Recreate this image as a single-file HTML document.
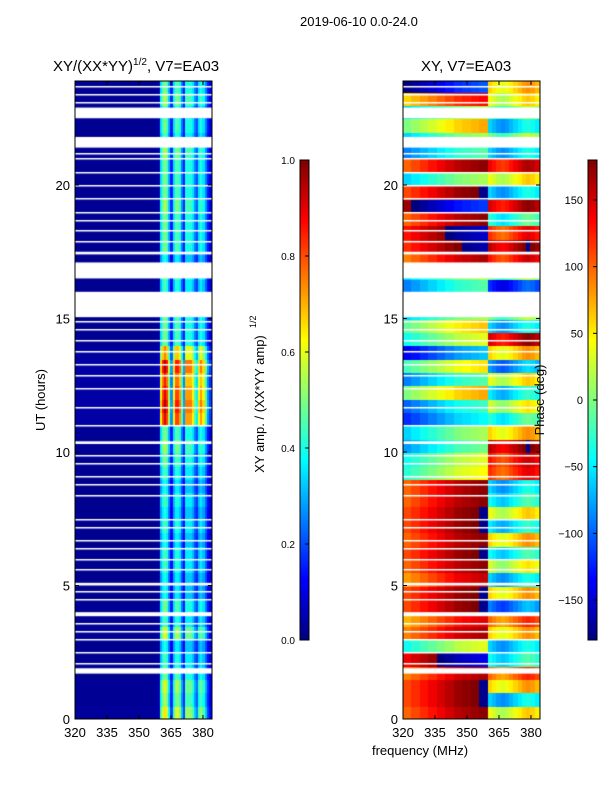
<!DOCTYPE html>
<html><head><meta charset="utf-8">
<style>
body{margin:0;background:#fff;width:600px;height:800px;overflow:hidden;font-family:"Liberation Sans","DejaVu Sans",sans-serif;}
.t{position:absolute;white-space:nowrap;color:#000;}
canvas{position:absolute;}
</style></head>
<body>
<div class="t" style="left:300px;top:14px;font-size:13px;">2019-06-10 0.0-24.0</div>
<div class="t" style="left:53px;top:57px;font-size:15px;">XY/(XX*YY)<sup style="font-size:10px">1/2</sup>, V7=EA03</div>
<div class="t" style="left:421px;top:58px;font-size:15px;">XY, V7=EA03</div>
<canvas id="c1" width="137" height="638" style="left:75px;top:81px"></canvas>
<canvas id="c2" width="137" height="638" style="left:403px;top:81px"></canvas>
<canvas id="cb1" width="9" height="480" style="left:300px;top:160px"></canvas>
<canvas id="cb2" width="9" height="480" style="left:588px;top:160px"></canvas>
<svg id="ov" width="600" height="800" style="position:absolute;left:0;top:0"></svg>
<script>
// ---- data ----
const hourStep=0.5;
const freqStart=320, freqStep=1;
const colAmp=[0.02,0.02,0.02,0.02,0.02,0.02,0.02,0.02,0.02,0.02,0.02,0.02,0.02,0.02,0.02,0.02,0.02,0.02,0.02,0.02,
0.02,0.02,0.02,0.02,0.02,0.02,0.02,0.02,0.02,0.02,0.02,0.02,0.02,0.02,0.02,0.02,0.02,0.02,0.03,0.04,
0.35,0.45,0.5,0.45,0.3,0.15,0.35,0.45,0.45,0.4,0.25,0.15,0.4,0.4,0.4,0.35,0.25,0.2,0.35,0.4,0.35,0.25,0.15,0.1];
const rowGain=[1.3,1.1,1.2,1.0,0.9,0.8,1.2,0.9,1.0,0.8,0.8,0.9,0.9,0.8,0.9,0.8,0.9,0.8,0.9,1.0,1.1,1.0,1.8,1.9,
1.8,1.7,1.9,1.5,1.0,1.0,1.0,0.9,0.9,1.0,0.8,1.0,1.0,1.0,1.1,1.0,1.0,1.0,1.1,0.9,1.0,0.9,1.1,1.0];
const phaseLow=[160,170,170,150,-160,20,150,130,170,170,140,160,170,160,170,170,160,160,30,20,-20,0,-60,-40,
60,-30,40,-80,20,50,0,0,-30,0,150,180,-170,160,-130,170,0,160,-30,0,60,0,120,-120];
const phaseHigh=[40,-60,60,100,-40,-60,60,100,-90,60,-60,30,-40,60,-50,40,-40,-60,120,130,160,60,-30,30,
-50,40,-80,60,150,-60,0,0,-120,0,130,160,120,-30,150,-60,40,140,-60,0,-60,0,40,60];
const lowGradient=[-60,-50,-40,-30,-20,-10,0,5,10,15];
const highGradient=[0,-10,-20,-25,-20,-10,0,10,20,25,20,10];
const gaps=[[22.5,22.9],[21.4,21.8],[17.4,17.5],[16.5,17.1],[15.05,16.0],[10.3,10.4],[5.0,5.1],[3.85,4.0],[1.7,1.9]];
const thinGaps=[23.7,23.4,23.1,21.2,21.0,20.5,20.0,19.5,19.0,18.7,18.3,17.9,14.9,14.6,14.2,13.8,13.3,12.9,12.4,11.7,11.0,9.9,9.6,9.1,8.8,8.4,7.5,7.2,6.7,6.4,6.0,5.6,4.8,4.5,3.6,3.3,3.0,2.5,2.1];
const yTicks=[0,5,10,15,20];
const xTicks=[320,335,350,365,380];
const ampTicks=[0.0,0.2,0.4,0.6,0.8,1.0];
const phaseTicks=[-150,-100,-50,0,50,100,150];

// ---- scales ----
const Y0=719, PXH=26.7;
const yOf=h=>Y0-h*PXH;
function jet(v){v=Math.max(0,Math.min(1,v));
 const r=Math.max(0,Math.min(1,1.5-Math.abs(4*v-3))),g=Math.max(0,Math.min(1,1.5-Math.abs(4*v-2))),b=Math.max(0,Math.min(1,1.5-Math.abs(4*v-1)));
 return `rgb(${r*255|0},${g*255|0},${b*255|0})`;}
function wrap(p){while(p>180)p-=360;while(p<-180)p+=360;return p;}

function drawHeat(id,fn){
 const c=document.getElementById(id),ctx=c.getContext('2d');
 const nr=24/hourStep;
 for(let r=0;r<nr;r++){
  for(let k=0;k<colAmp.length;k++){
   const f=freqStart+k*freqStep;
   ctx.fillStyle=fn(r,k,f);
   const x0=(f-320)*2.133, y0=yOf((r+1)*hourStep)-81;
   ctx.fillRect(Math.floor(x0),Math.floor(y0),Math.ceil(2.133)+1,Math.ceil(hourStep*PXH)+1);
  }}
 ctx.fillStyle='#fff';
 gaps.forEach(g=>{ctx.fillRect(0,yOf(g[1])-81,137,(g[1]-g[0])*PXH);});
 thinGaps.forEach(h=>{ctx.fillRect(0,Math.round(yOf(h)-81),137,1.5);});
}
drawHeat('c1',(r,k)=>jet(colAmp[k]*rowGain[r]));
drawHeat('c2',(r,k,f)=>{
 let p;
 if(f<360){p=phaseLow[r]+lowGradient[Math.floor(k/4)];}
 else{p=phaseHigh[r]+highGradient[Math.floor((k-40)/2)];}
 return jet((wrap(p)+180)/360);});

['cb1','cb2'].forEach(id=>{const ctx=document.getElementById(id).getContext('2d');
 for(let i=0;i<480;i++){ctx.fillStyle=jet(1-i/479);ctx.fillRect(0,i,9,1);}});

// ---- axes ----
const ov=document.getElementById('ov');const NS='http://www.w3.org/2000/svg';
function el(tag,at,txt){const e=document.createElementNS(NS,tag);for(const k in at)e.setAttribute(k,at[k]);if(txt!==undefined)e.textContent=txt;ov.appendChild(e);return e;}
[[75,'left'],[403,'right']].forEach(([x0,nm])=>{
 const fr=el('rect',{x:x0,y:81,width:137,height:638,fill:'none',stroke:'#000','stroke-width':1});
 
 
 yTicks.forEach(h=>{const y=yOf(h);
  el('line',{x1:x0,x2:x0+4,y1:y,y2:y,stroke:'#000'});el('line',{x1:x0+137,x2:x0+133,y1:y,y2:y,stroke:'#000'});
  const t=el('text',{x:x0-5,y:y+5,'text-anchor':'end','font-size':13},String(h));
  
  });
 xTicks.forEach(f=>{const x=x0+(f-320)*2.133;
  el('line',{x1:x,x2:x,y1:719,y2:715,stroke:'#000'});el('line',{x1:x,x2:x,y1:81,y2:85,stroke:'#000'});
  const t=el('text',{x:x,y:737,'text-anchor':'middle','font-size':13},String(f));
  
  });
});
[[300,'amp'],[588,'phase']].forEach(([x0,nm])=>{
 const r=el('rect',{x:x0,y:160,width:9,height:480,fill:'none',stroke:'#000'});
 
 });
ampTicks.forEach(v=>{const y=640-v*480;
 el('line',{x1:305,x2:309,y1:y,y2:y,stroke:'#000'});
 const t=el('text',{x:295,y:y+4,'text-anchor':'end','font-size':10},v.toFixed(1));
 
 });
phaseTicks.forEach(v=>{const y=400-v*480/360;
 el('line',{x1:593,x2:597,y1:y,y2:y,stroke:'#000'});
 const t=el('text',{x:583,y:y+4,'text-anchor':'end','font-size':11},v<0?'\u2212'+(-v):String(v));
 
 });
const a=el('text',{x:45,y:400,'text-anchor':'middle','font-size':13,transform:'rotate(-90 45 400)'},'UT (hours)');

const b=el('text',{x:264,y:404,'text-anchor':'middle','font-size':13,transform:'rotate(-90 264 404)'},'XY amp. / (XX*YY amp)');

const b2=el('text',{x:256,y:328,'font-size':9,transform:'rotate(-90 256 328)'},'1/2');

const c=el('text',{x:544,y:400,'text-anchor':'middle','font-size':13,transform:'rotate(-90 544 400)'},'Phase (deg)');

const d=el('text',{x:420,y:755,'text-anchor':'middle','font-size':13},'frequency (MHz)');

</script>
</body></html>
